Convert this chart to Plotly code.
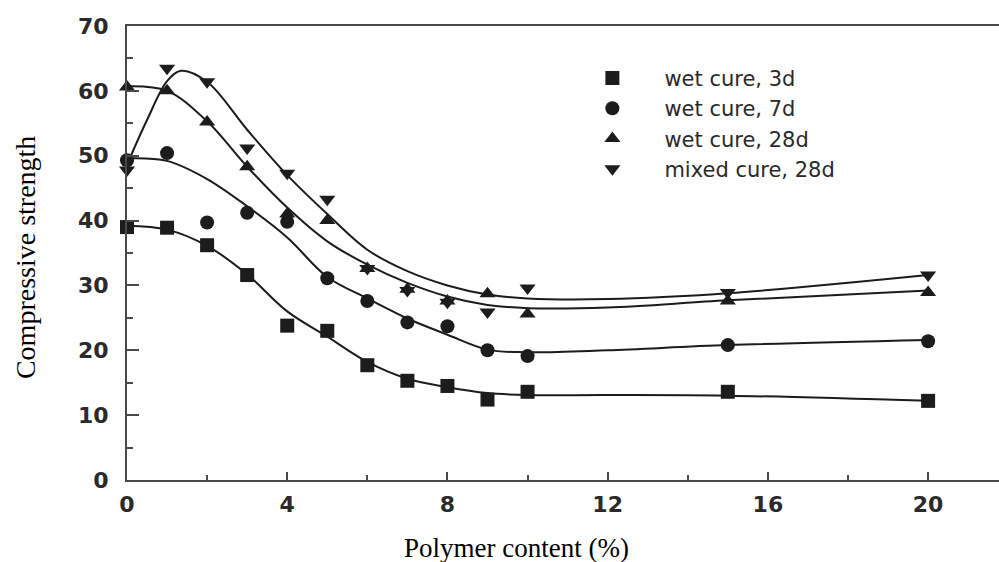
import plotly.graph_objects as go

# Polymer content (%) at which specimens were tested
polymer_pct = [0, 1, 2, 3, 4, 5, 6, 7, 8, 9, 10, 15, 20]

# Measured compressive strength for each curing regime
wet_3d = [39.0, 38.9, 36.2, 31.6, 23.8, 23.0, 17.7, 15.3, 14.5, 12.4, 13.6, 13.6, 12.2]
wet_7d = [49.3, 50.4, 39.7, 41.2, 39.8, 31.1, 27.6, 24.3, 23.7, 20.0, 19.1, 20.8, 21.4]
wet_28d = [60.6, 60.0, 55.2, 48.3, 41.0, 40.0, 32.6, 29.4, 27.6, 28.7, 25.6, 27.6, 28.9]
mixed_28d = [47.8, 63.5, 61.4, 51.2, 47.3, 43.3, 32.6, 29.2, 27.4, 25.9, 29.6, 28.9, 31.6]

# Fitted trend curves
fit_x = [0, 1, 2, 3, 4, 5, 6, 7, 8, 9, 10, 12, 15, 20]
fit_3d = [39.2, 38.6, 36.1, 31.7, 26.0, 22.1, 18.2, 15.6, 14.3, 13.4, 13.1, 13.1, 13.0, 12.2]
fit_7d = [49.6, 49.2, 46.4, 42.2, 37.4, 31.3, 28.0, 24.9, 22.4, 20.1, 19.7, 20.0, 20.8, 21.6]
fit_28d = [60.7, 60.0, 55.3, 48.3, 42.0, 36.8, 33.2, 30.4, 28.3, 27.0, 26.5, 26.6, 27.7, 29.2]
fit_mix_x = [0, 0.5, 1, 1.35, 2, 3, 4, 5, 6, 7, 8, 9, 10, 12, 15, 20]
fit_mix = [48.6, 55.5, 61.5, 63.1, 61.4, 54.0, 47.0, 41.0, 35.5, 32.2, 30.0, 28.6, 28.0, 27.9, 28.8, 31.6]

x_ticks = [0, 4, 8, 12, 16, 20]
y_ticks = [0, 10, 20, 30, 40, 50, 60, 70]

INK = "#1c1c1c"
AXIS = "#4a4a4a"

series = [
    ("wet cure, 3d", wet_3d, "square", fit_x, fit_3d),
    ("wet cure, 7d", wet_7d, "circle", fit_x, fit_7d),
    ("wet cure, 28d", wet_28d, "triangle-up", fit_x, fit_28d),
    ("mixed cure, 28d", mixed_28d, "triangle-down", fit_mix_x, fit_mix),
]

fig = go.Figure()

for name, vals, sym, fx, fy in series:
    fig.add_trace(go.Scatter(
        x=fx, y=fy, mode="lines", showlegend=False, hoverinfo="skip",
        line=dict(color=INK, width=2, shape="spline", smoothing=1.0),
        cliponaxis=False,
    ))

for name, vals, sym, fx, fy in series:
    fig.add_trace(go.Scatter(
        x=polymer_pct, y=vals, mode="markers", name=name,
        marker=dict(symbol=sym, size=14, color=INK, line=dict(width=0)),
        cliponaxis=False,
    ))

fig.update_layout(
    width=999, height=562,
    margin=dict(l=127, r=0, t=26, b=82),
    paper_bgcolor="white", plot_bgcolor="white",
    showlegend=True,
    legend=dict(
        x=0.497, y=0.93, xanchor="left", yanchor="top",
        font=dict(family="DejaVu Sans", size=21, color="#2a2a2a"),
        bgcolor="rgba(0,0,0,0)", borderwidth=0,
        itemwidth=94,
    ),
    xaxis=dict(
        range=[0, 21.77], tickvals=x_ticks, ticktext=[str(v) for v in x_ticks],
        showgrid=False, zeroline=False,
        showline=True, linecolor=AXIS, linewidth=2, mirror=True,
        ticks="inside", ticklen=8, tickwidth=2, tickcolor=AXIS,
        minor=dict(dtick=2, ticks="inside", ticklen=5, tickwidth=2, tickcolor=AXIS),
        tickfont=dict(family="DejaVu Sans", size=22, color="#2a2a2a", weight="bold"),
        ticklabelstandoff=4,
    ),
    yaxis=dict(
        range=[0, 70], tickvals=y_ticks, ticktext=[str(v) for v in y_ticks],
        showgrid=False, zeroline=False,
        showline=True, linecolor=AXIS, linewidth=2,
        ticks="inside", ticklen=12, tickwidth=2, tickcolor=AXIS,
        minor=dict(dtick=5, ticks="inside", ticklen=6, tickwidth=2, tickcolor=AXIS),
        tickfont=dict(family="DejaVu Sans", size=22, color="#2a2a2a", weight="bold"),
        ticklabelstandoff=12,
    ),
    annotations=[
        dict(text="Polymer content (%)", xref="paper", yref="paper",
             x=0.447, y=-0.15, xanchor="center", yanchor="middle", showarrow=False,
             font=dict(family="Liberation Serif", size=27, color="black")),
        dict(text="Compressive strength", xref="paper", yref="paper",
             x=-0.117, y=0.491, xanchor="center", yanchor="middle", showarrow=False,
             textangle=-90,
             font=dict(family="Liberation Serif", size=28, color="black")),
    ],
)

fig.write_html("out.html")
